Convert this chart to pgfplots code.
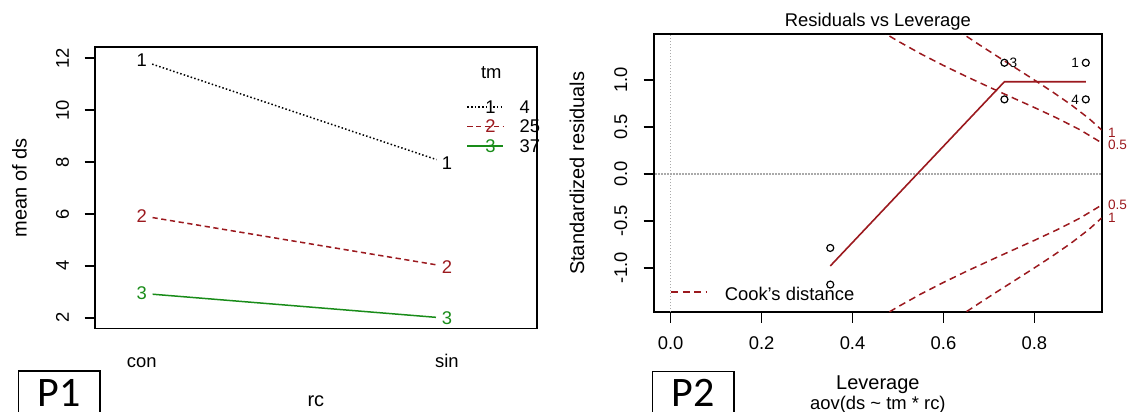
\documentclass[border=0pt]{standalone}
\usepackage{fontspec}
\setmainfont{Liberation Sans}
\newfontfamily\carlito{Carlito}
\usepackage{pgfplots}
\pgfplotsset{compat=1.18}
\definecolor{dred}{RGB}{155,25,30}
\definecolor{dgreen}{RGB}{25,140,25}
\definecolor{dotgray}{RGB}{170,170,170}
\newcommand\fs{\fontsize{9.2}{11}\selectfont}
\newcommand\fss{\fontsize{6.8}{8}\selectfont}
\pgfplotsset{
  rleg/.style 2 args={legend image code/.code={\draw[##1, shorten <=0pt, shorten >=0pt] (0pt,0pt) -- (18pt,0pt); \node[text=#1, inner sep=0pt, font=\fs] at (9pt,0pt) {#2};}},
  cookleg/.style={legend image code/.code={\draw[##1] (0pt,0pt) -- (17.7pt,0pt);}},
  rstyle/.style={scale only axis, anchor=south west, clip mode=individual,
    axis line style={line width=0.9pt}, tick align=outside, tick pos=left, major tick length=5.2pt,
    tick style={black, line width=0.8pt},
    tick label style={font=\fs}, label style={font=\fs},
    /pgf/number format/assume math mode=true,
    yticklabel style={rotate=90, anchor=base},
    xticklabel style={anchor=base},
    every axis title shift=0pt,
  },
}
\begin{document}
\begin{tikzpicture}
\useasboundingbox (0,0) rectangle (568pt,206pt);
% ---------------- Panel 1: interaction plot ----------------
\begin{axis}[rstyle, at={(47.5pt,41.75pt)}, width=220.85pt, height=140.9pt,
  xmin=0.847, xmax=2.294, ymin=1.584, ymax=12.447,
  xtick={1,2}, xticklabels={con,sin}, ytick={2,4,6,8,10,12},
  every major x tick/.append style={draw=none},
  yticklabel shift=7.9pt, xticklabel shift=14.5pt,
  xlabel={rc}, ylabel={mean of ds},
  every axis x label/.style={at={(axis description cs:0.5,0)}, anchor=base, yshift=-39.25pt},
  every axis y label/.style={at={(axis description cs:-0.1707,0.5)}, rotate=90, anchor=center},
  legend style={at={(axis cs:2.0645,9.38)}, anchor=west, draw=none, fill=none, inner sep=0pt, outer sep=0pt,
    column sep=7.8pt, font=\fs, nodes={inner sep=0pt, text height=8.2pt, text depth=1.55pt}},
  legend cell align=left,
]
\addplot[black, line width=0.75pt, dash pattern=on 0.75pt off 1.1pt, shorten <=5.5pt, shorten >=5.5pt,
  nodes near coords={1}, every node near coord/.append style={anchor=center, text=black, inner sep=0pt, font=\fs, solid},
  rleg={black}{1}]
  coordinates {(1,11.91) (2,7.96)};
\addlegendentry{4}
\addplot[dred, line width=0.75pt, dash pattern=on 2.6pt off 1.8pt, shorten <=5.5pt, shorten >=5.5pt,
  nodes near coords={2}, every node near coord/.append style={anchor=center, text=dred, inner sep=0pt, font=\fs, solid},
  rleg={dred}{2}]
  coordinates {(1,5.93) (2,3.97)};
\addlegendentry{25}
\addplot[dgreen, line width=0.75pt, solid, shorten <=5.5pt, shorten >=5.5pt,
  nodes near coords={3}, every node near coord/.append style={anchor=center, text=dgreen, inner sep=0pt, font=\fs},
  rleg={dgreen}{3}]
  coordinates {(1,2.94) (2,1.98)};
\addlegendentry{37}
\node[font=\fs, inner sep=0pt] at (axis cs:2.1454,11.433) {tm};
\end{axis}
% ---------------- Panel 2: residuals vs leverage ----------------
\begin{axis}[rstyle, at={(327pt,49.9pt)}, width=223.85pt, height=138.95pt,
  xmin=-0.0367, xmax=0.948, ymin=-1.472, ymax=1.487,
  xtick={0,0.2,0.4,0.6,0.8}, ytick={-1,-0.5,0,0.5,1},
  xticklabel style={/pgf/number format/.cd, fixed, fixed zerofill, precision=1},
  yticklabel style={/pgf/number format/.cd, fixed, fixed zerofill, precision=1},
  yticklabel shift=8.3pt, xticklabel shift=13.5pt,
  title={Residuals vs Leverage},
  title style={at={(axis description cs:0.5,1)}, anchor=base, yshift=4pt, font=\fs},
  xlabel={Leverage}, ylabel={Standardized residuals},
  every axis x label/.style={at={(axis description cs:0.5,0)}, anchor=base, yshift=-38.6pt},
  every axis y label/.style={at={(axis description cs:-0.1722,0.5)}, rotate=90, anchor=center},
  legend style={at={(axis cs:0,-1.256)}, anchor=west, draw=none, fill=none, inner sep=0pt, outer sep=0pt,
    column sep=8.6pt, font=\fs, nodes={inner sep=0pt, text height=8.3pt, text depth=0pt}},
  cookleg,
]
\addlegendimage{dred, line width=0.75pt, dash pattern=on 3.4pt off 2.3pt}
\addlegendentry{Cook's distance}
\addplot[forget plot, dotgray, line width=0.6pt, dash pattern=on 0.7pt off 0.8pt] coordinates {(0,-1.6) (0,1.6)};
\addplot[forget plot, dotgray, line width=0.6pt, dash pattern=on 0.7pt off 0.8pt] coordinates {(-0.1,0) (1,0)};
% Cook's distance 0.5
\addplot[forget plot, dred, line width=0.75pt, dash pattern=on 3.4pt off 2.3pt] coordinates {
 (0.46,1.532) (0.48,1.472) (0.50,1.414) (0.55,1.279) (0.60,1.155) (0.65,1.038) (0.70,0.926)
 (0.75,0.816) (0.80,0.707) (0.85,0.594) (0.90,0.471) (0.948,0.331)};
\addplot[forget plot, dred, line width=0.75pt, dash pattern=on 3.4pt off 2.3pt] coordinates {
 (0.46,-1.532) (0.48,-1.472) (0.50,-1.414) (0.55,-1.279) (0.60,-1.155) (0.65,-1.038) (0.70,-0.926)
 (0.75,-0.816) (0.80,-0.707) (0.85,-0.594) (0.90,-0.471) (0.948,-0.331)};
% Cook's distance 1
\addplot[forget plot, dred, line width=0.75pt, dash pattern=on 3.4pt off 2.3pt] coordinates {
 (0.63,1.533) (0.64,1.5) (0.68,1.372) (0.72,1.247) (0.76,1.124) (0.80,1.0) (0.84,0.873)
 (0.88,0.739) (0.92,0.590) (0.948,0.468)};
\addplot[forget plot, dred, line width=0.75pt, dash pattern=on 3.4pt off 2.3pt] coordinates {
 (0.63,-1.533) (0.64,-1.5) (0.68,-1.372) (0.72,-1.247) (0.76,-1.124) (0.80,-1.0) (0.84,-0.873)
 (0.88,-0.739) (0.92,-0.590) (0.948,-0.468)};
% smoother
\addplot[forget plot, dred, line width=0.8pt] coordinates {(0.351,-0.98) (0.734,0.982) (0.913,0.982)};
% points
\addplot[forget plot, only marks, mark=o, mark size=1.75pt, black, mark options={line width=0.6pt}] coordinates {
 (0.351,-0.788) (0.351,-1.178) (0.734,1.184) (0.734,0.794) (0.913,1.184) (0.913,0.794)};
\node[font=\fss, inner sep=0pt] at (axis cs:0.754,1.184) {3};
\node[font=\fss, inner sep=0pt] at (axis cs:0.8896,1.184) {1};
\node[font=\fss, inner sep=0pt] at (axis cs:0.8896,0.794) {4};
\node[font=\fss, text=dred, inner sep=0pt, anchor=west, xshift=3pt] at (axis cs:0.948,0.44) {1};
\node[font=\fss, text=dred, inner sep=0pt, anchor=west, xshift=3pt] at (axis cs:0.948,0.31) {0.5};
\node[font=\fss, text=dred, inner sep=0pt, anchor=west, xshift=3pt] at (axis cs:0.948,-0.33) {0.5};
\node[font=\fss, text=dred, inner sep=0pt, anchor=west, xshift=3pt] at (axis cs:0.948,-0.47) {1};
\node[font=\fs, inner sep=0pt, anchor=base, yshift=-48.6pt] at (axis description cs:0.5,0) {aov(ds \textasciitilde{} tm * rc)};
\end{axis}
% ---------------- panel tags ----------------
\draw[line width=0.75pt] (9.25pt,-2pt) -- (9.25pt,20.5pt) -- (50pt,20.5pt) -- (50pt,-2pt);
\node[font=\carlito\fontsize{21}{24}\selectfont, anchor=base, inner sep=0pt] at (29.6pt,2.65pt) {P1};
\draw[line width=0.75pt] (326.35pt,-2pt) -- (326.35pt,20.15pt) -- (367pt,20.15pt) -- (367pt,-2pt);
\node[font=\carlito\fontsize{21}{24}\selectfont, anchor=base, inner sep=0pt] at (346.7pt,2.65pt) {P2};
\end{tikzpicture}
\end{document}
